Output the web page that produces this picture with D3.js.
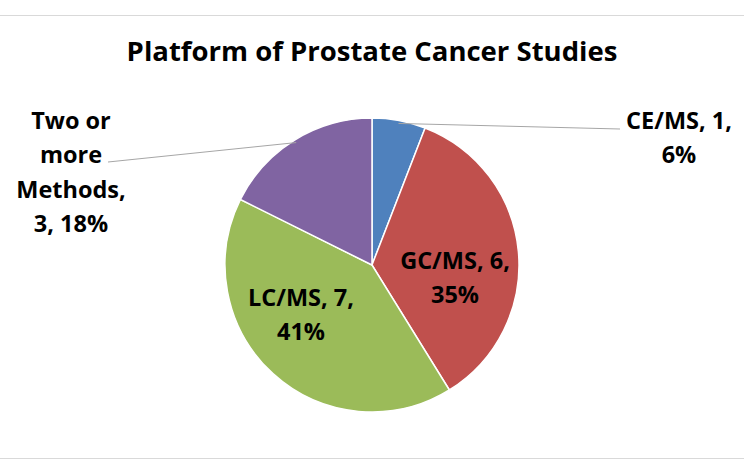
<!DOCTYPE html>
<html>
<head>
<meta charset="utf-8">
<script src="https://cdn.jsdelivr.net/npm/d3@7"></script>
<style>
  body { margin: 0; background: #fff; }
  text { font-family: "Open Sans", Lato, sans-serif; font-weight: bold; fill: #000; }
</style>
</head>
<body>
<div id="chart"></div>
<script>
var categories = ["CE/MS", "GC/MS", "LC/MS", "Two or more Methods"];
var counts = [1, 6, 7, 3];
var percents = ["6%", "35%", "41%", "18%"];
var colors = ["#4f81bd", "#c0504d", "#9bbb59", "#8064a2"];

var w = 744, h = 466;
var cx = 372, cy = 265, r = 147;

var svg = d3.select("#chart")
    .append("svg")
    .attr("width", w)
    .attr("height", h);

// chart area border
svg.append("rect")
    .attr("x", -1)
    .attr("y", 15.5)
    .attr("width", w + 2)
    .attr("height", 443)
    .attr("fill", "none")
    .attr("stroke", "#d9d9d9")
    .attr("stroke-width", 1);

svg.append("text")
    .attr("x", 372)
    .attr("y", 61)
    .attr("text-anchor", "middle")
    .attr("font-size", "27.5px")
    .text("Platform of Prostate Cancer Studies");

var data = categories.map(function(c, i) {
    return { name: c, value: counts[i], pct: percents[i], color: colors[i] };
});

var pie = d3.pie().sort(null).value(function(d) { return d.value; });
var arc = d3.arc().innerRadius(0).outerRadius(r);
var arcs = pie(data);

var g = svg.append("g").attr("transform", "translate(" + cx + "," + cy + ")");

g.selectAll("path")
    .data(arcs)
    .enter()
    .append("path")
    .attr("d", arc)
    .attr("fill", function(d) { return d.data.color; })
    .attr("stroke", "#fff")
    .attr("stroke-width", 1.5);

// label placement (lines of text, anchor point, optional leader end)
var labels = [
    { lines: ["CE/MS, 1,", "6%"], x: 679, y: 129, leader: [620, 129] },
    { lines: ["GC/MS, 6,", "35%"], x: 455, y: 269 },
    { lines: ["LC/MS, 7,", "41%"], x: 301, y: 306 },
    { lines: ["Two or", "more", "Methods,", "3, 18%"], x: 71, y: 129, leader: [108, 162] }
];

var lh = 34.3;
labels.forEach(function(l, i) {
    var t = svg.append("text")
        .attr("text-anchor", "middle")
        .attr("font-size", "23.5px");
    l.lines.forEach(function(s, k) {
        t.append("tspan").attr("x", l.x).attr("y", l.y + k * lh).text(s);
    });
    if (l.leader) {
        // leader starts just inside the slice edge, at its mid angle
        var a = arcs[i];
        var ang = (a.startAngle + a.endAngle) / 2;
        var px = cx + Math.sin(ang) * (r - 3), py = cy - Math.cos(ang) * (r - 3);
        svg.append("line")
            .attr("x1", px).attr("y1", py)
            .attr("x2", l.leader[0]).attr("y2", l.leader[1])
            .attr("stroke", "#a6a6a6")
            .attr("stroke-width", 1);
    }
});
</script>
</body>
</html>
